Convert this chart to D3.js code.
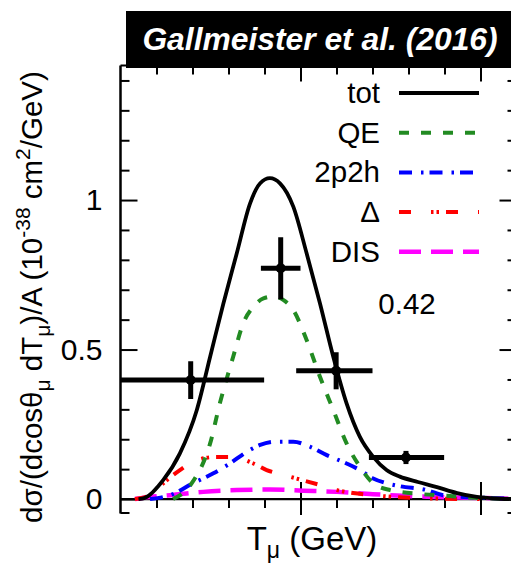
<!DOCTYPE html>
<html>
<head>
<meta charset="utf-8">
<script src="https://cdn.jsdelivr.net/npm/d3@7"></script>
<style>
  html, body { margin: 0; padding: 0; background: #fff; }
  svg { display: block; }
  text { font-family: "Liberation Sans", Arial, Helvetica, sans-serif; }
</style>
</head>
<body>
<svg id="chart" width="511" height="571"></svg>
<script>
// ---------------- data ----------------
const totX = [0.05, 0.068, 0.119, 0.165, 0.212, 0.249, 0.286, 0.323, 0.360, 0.388, 0.415, 0.443, 0.480, 0.517, 0.554, 0.591, 0.628, 0.665, 0.702, 0.739, 0.776, 0.826, 0.879, 0.935, 0.990, 1.054, 1.1];
const totY = [0.0, 0.004, 0.064, 0.153, 0.298, 0.476, 0.655, 0.822, 0.989, 1.056, 1.073, 1.056, 0.978, 0.822, 0.655, 0.476, 0.320, 0.208, 0.141, 0.097, 0.075, 0.057, 0.040, 0.020, 0.007, 0.001, 0.0];

const qeX = [0.146, 0.198, 0.249, 0.276, 0.313, 0.341, 0.369, 0.397, 0.424, 0.452, 0.480, 0.517, 0.554, 0.591, 0.628, 0.665, 0.702, 0.749, 0.832, 0.915, 0.999, 1.08];
const qeY = [0.0, 0.053, 0.186, 0.320, 0.476, 0.588, 0.643, 0.671, 0.677, 0.666, 0.632, 0.532, 0.409, 0.298, 0.186, 0.108, 0.053, 0.030, 0.017, 0.010, 0.003, 0.0];

const npX = [0.082, 0.138, 0.202, 0.258, 0.304, 0.351, 0.388, 0.434, 0.480, 0.526, 0.573, 0.628, 0.665, 0.702, 0.739, 0.776, 0.851, 0.896, 0.943, 1.035, 1.1];
const npY = [0.0, 0.013, 0.053, 0.086, 0.119, 0.158, 0.181, 0.192, 0.192, 0.175, 0.147, 0.119, 0.097, 0.069, 0.053, 0.043, 0.030, 0.013, 0.008, 0.003, 0.0];

const deltaX = [0.040, 0.082, 0.119, 0.165, 0.212, 0.267, 0.313, 0.369, 0.406, 0.443, 0.503, 0.554, 0.601, 0.646, 0.701, 0.757, 0.860, 1.0];
const deltaY = [0.0, 0.013, 0.053, 0.097, 0.130, 0.141, 0.141, 0.119, 0.097, 0.084, 0.064, 0.047, 0.030, 0.020, 0.013, 0.007, 0.002, 0.0];

const disX = [0.040, 0.082, 0.138, 0.230, 0.323, 0.415, 0.508, 0.601, 0.693, 0.767, 0.851, 0.943, 1.054, 1.1];
const disY = [0.0, 0.007, 0.013, 0.024, 0.030, 0.032, 0.028, 0.024, 0.017, 0.012, 0.008, 0.005, 0.002, 0.0];

// measured data points: centre, x-bin edges, y error
const dataX    = [0.195, 0.445, 0.599, 0.793];
const dataY    = [0.398, 0.772, 0.429, 0.139];
const dataXlo  = [0.0, 0.39, 0.488, 0.690];
const dataXhi  = [0.399, 0.50, 0.700, 0.899];
const dataYerr = [0.063, 0.104, 0.062, 0.022];

const legendLabels = ["tot", "QE", "2p2h", "\u0394", "DIS"];
const yMajorTicks = [0, 0.5, 1];
const yMajorLabels = ["0", "0.5", "1"];
const yMinorTicks = [0.1, 0.2, 0.3, 0.4, 0.6, 0.7, 0.8, 0.9, 1.1, 1.2, 1.3, 1.4];
const xMajorTicks = [0.5, 1.0];
const xMinorTicks = [0.1, 0.2, 0.3, 0.4, 0.6, 0.7, 0.8, 0.9];
const titleText = "Gallmeister et al. (2016)";
const ratioText = "0.42";

// ---------------- layout ----------------
const svg = d3.select("#chart");
const x = d3.scaleLinear().domain([0, 1.1]).range([120.5, 516.5]);
const y = d3.scaleLinear().domain([-0.05, 1.45]).range([514, 65.5]);
const X0 = x.range()[0], X1 = x.range()[1];
const Ybot = y.range()[0], Ytop = y.range()[1];
const FS = 29.5;

svg.append("defs").append("clipPath").attr("id", "clip")
  .append("rect").attr("x", X0).attr("y", Ytop).attr("width", X1 - X0).attr("height", Ybot - Ytop);

// zero axis line
svg.append("line").attr("x1", X0).attr("x2", X1).attr("y1", y(0)).attr("y2", y(0))
  .attr("stroke", "#000").attr("stroke-width", 2.2);

function styleAxis(g) {
  g.select(".domain").remove();
  g.selectAll(".tick line").attr("stroke", "#000").attr("stroke-width", 2);
}
// y axis left (ticks pointing inward)
svg.append("g").attr("transform", `translate(${X0},0)`)
  .call(d3.axisLeft(y).tickValues(yMajorTicks).tickSizeInner(-17).tickSizeOuter(0).tickPadding(18)
    .tickFormat((d, i) => yMajorLabels[i]))
  .call(styleAxis)
  .call(g => g.selectAll("text").attr("font-size", 30).attr("fill", "#000").attr("font-family", "Liberation Sans, Arial, sans-serif"));
svg.append("g").attr("transform", `translate(${X0},0)`)
  .call(d3.axisLeft(y).tickValues(yMinorTicks).tickSizeInner(-9).tickSizeOuter(0).tickFormat(""))
  .call(styleAxis);
// y axis right (mirror)
svg.append("g").attr("transform", `translate(${X1},0)`)
  .call(d3.axisRight(y).tickValues(yMajorTicks).tickSizeInner(-17).tickSizeOuter(0).tickFormat(""))
  .call(styleAxis);
svg.append("g").attr("transform", `translate(${X1},0)`)
  .call(d3.axisRight(y).tickValues(yMinorTicks).tickSizeInner(-9).tickSizeOuter(0).tickFormat(""))
  .call(styleAxis);
// x ticks on zero axis
svg.append("g").attr("transform", `translate(0,${y(0)})`)
  .call(d3.axisBottom(x).tickValues(xMinorTicks).tickSizeInner(9).tickSizeOuter(0).tickFormat(""))
  .call(styleAxis);
svg.append("g").attr("transform", `translate(0,${y(0)})`)
  .call(d3.axisBottom(x).tickValues(xMajorTicks).tickSizeInner(16).tickSizeOuter(0).tickFormat(""))
  .call(styleAxis);
svg.append("g").attr("transform", `translate(0,${y(0)})`)
  .call(d3.axisTop(x).tickValues(xMajorTicks).tickSizeInner(17).tickSizeOuter(0).tickFormat(""))
  .call(styleAxis);
// x ticks on top border (pointing down)
svg.append("g").attr("transform", `translate(0,${Ytop})`)
  .call(d3.axisBottom(x).tickValues(xMinorTicks).tickSizeInner(9).tickSizeOuter(0).tickFormat(""))
  .call(styleAxis);
svg.append("g").attr("transform", `translate(0,${Ytop})`)
  .call(d3.axisBottom(x).tickValues(xMajorTicks).tickSizeInner(16).tickSizeOuter(0).tickFormat(""))
  .call(styleAxis);

// border: left line, corner stubs
svg.append("line").attr("x1", X0).attr("x2", X0).attr("y1", Ytop).attr("y2", Ybot - 0.5)
  .attr("stroke", "#000").attr("stroke-width", 2.5);
svg.append("line").attr("x1", X0).attr("x2", X0 + 9).attr("y1", Ybot - 1).attr("y2", Ybot - 1)
  .attr("stroke", "#000").attr("stroke-width", 2);
svg.append("line").attr("x1", X1 - 9).attr("x2", X1).attr("y1", Ybot - 1).attr("y2", Ybot - 1)
  .attr("stroke", "#000").attr("stroke-width", 2);
svg.append("line").attr("x1", X0).attr("x2", X1).attr("y1", Ytop).attr("y2", Ytop)
  .attr("stroke", "#000").attr("stroke-width", 2);

// ---------------- curves ----------------
const series = [
  { xs: totX, ys: totY, color: "#000000", dash: null, w: 3.8 },
  { xs: qeX, ys: qeY, color: "#228b22", dash: "10,12", w: 4 },
  { xs: npX, ys: npY, color: "#0000ff", dash: "13,9,2.5,6", w: 4 },
  { xs: deltaX, ys: deltaY, color: "#ff0000", dash: "12,20,2.5,3,2.5,7", w: 4 },
  { xs: disX, ys: disY, color: "#ff00ff", dash: "22,10", w: 4.5 }
];
const line = d3.line().x(d => x(d[0])).y(d => y(d[1])).curve(d3.curveMonotoneX);
const curves = svg.append("g").attr("clip-path", "url(#clip)");
// draw components first, then total
[4, 3, 2, 1, 0].forEach(i => {
  const s = series[i];
  curves.append("path")
    .datum(s.xs.map((v, j) => [v, s.ys[j]]))
    .attr("d", line)
    .attr("fill", "none")
    .attr("stroke", s.color)
    .attr("stroke-width", s.w)
    .attr("stroke-dasharray", s.dash)
    .attr("stroke-linejoin", "round");
});

// ---------------- data points ----------------
const pts = svg.append("g").attr("clip-path", "url(#clip)");
dataX.forEach((cx, i) => {
  pts.append("line").attr("x1", x(dataXlo[i])).attr("x2", x(dataXhi[i]))
    .attr("y1", y(dataY[i])).attr("y2", y(dataY[i]))
    .attr("stroke", "#000").attr("stroke-width", 5);
  pts.append("line").attr("x1", x(cx)).attr("x2", x(cx))
    .attr("y1", y(dataY[i] - dataYerr[i])).attr("y2", y(dataY[i] + dataYerr[i]))
    .attr("stroke", "#000").attr("stroke-width", 5);
  pts.append("circle").attr("cx", x(cx)).attr("cy", y(dataY[i])).attr("r", 5).attr("fill", "#000");
});

// ---------------- legend ----------------
const legY0 = 93, legStep = 39.7;
legendLabels.forEach((lab, i) => {
  const yy = legY0 + i * legStep;
  const s = series[i];
  svg.append("text").attr("x", 380).attr("y", yy + 10).attr("text-anchor", "end")
    .attr("font-size", FS).attr("fill", "#000").text(lab);
  svg.append("line").attr("x1", 399).attr("x2", 479).attr("y1", yy).attr("y2", yy)
    .attr("stroke", s.color).attr("stroke-width", s.w)
    .attr("stroke-dasharray", s.dash);
});

svg.append("text").attr("x", 407).attr("y", 314).attr("text-anchor", "middle")
  .attr("font-size", FS).attr("fill", "#000").text(ratioText);

// ---------------- title box ----------------
svg.append("rect").attr("x", 126).attr("y", 11).attr("width", 400).attr("height", 57).attr("fill", "#000");
svg.append("text").attr("x", 320).attr("y", 50).attr("text-anchor", "middle")
  .attr("font-size", 31.8).attr("font-weight", "bold").attr("font-style", "italic")
  .attr("fill", "#fff").text(titleText);

// ---------------- axis titles ----------------
const xt = svg.append("text").attr("x", 312).attr("y", 550).attr("text-anchor", "middle")
  .attr("font-size", 33).attr("fill", "#000");
xt.append("tspan").text("T");
xt.append("tspan").attr("dy", 8).attr("font-size", 23).text("\u03bc");
xt.append("tspan").attr("dy", -8).text(" (GeV)");

const yt = svg.append("text").attr("transform", "translate(42,297) rotate(-90)")
  .attr("text-anchor", "middle").attr("font-size", 29.5).attr("fill", "#000");
yt.append("tspan").text("d\u03c3/(dcos\u03b8");
yt.append("tspan").attr("dy", 8).attr("font-size", 21).text("\u03bc");
yt.append("tspan").attr("dy", -8).text(" dT");
yt.append("tspan").attr("dy", 8).attr("font-size", 21).text("\u03bc");
yt.append("tspan").attr("dy", -8).text(")/A (10");
yt.append("tspan").attr("dy", -12).attr("font-size", 21).text("-38");
yt.append("tspan").attr("dy", 12).text(" cm");
yt.append("tspan").attr("dy", -12).attr("font-size", 21).text("2");
yt.append("tspan").attr("dy", 12).text("/GeV)");
</script>
</body>
</html>
